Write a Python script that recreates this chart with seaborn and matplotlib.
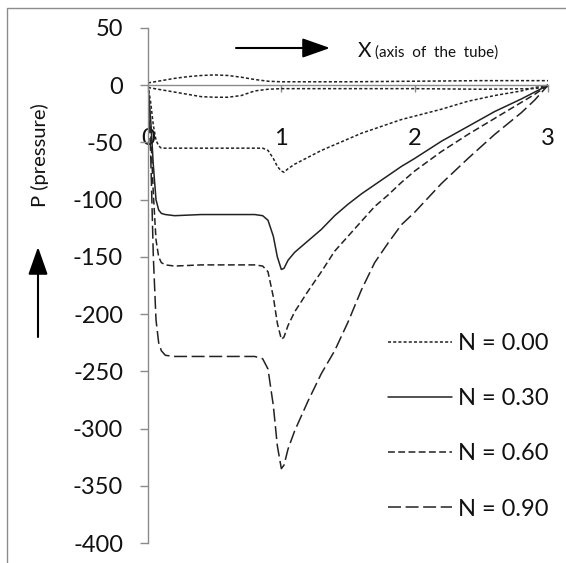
import matplotlib
matplotlib.use("Agg")
import matplotlib.pyplot as plt
from matplotlib.patches import Rectangle
import seaborn as sns
import pandas as pd

# Axial positions along the tube
x_pos = [0, 0.02, 0.04, 0.06, 0.08, 0.10, 0.13, 0.2, 0.4, 0.6, 0.8, 0.86, 0.9,
         0.94, 0.97, 1.0, 1.02, 1.05, 1.1, 1.2, 1.3, 1.4, 1.5, 1.6, 1.7, 1.8,
         1.9, 2.0, 2.2, 2.4, 2.6, 2.8, 2.9, 3.0]

# Pressure for each N
p_n000 = [0, -15, -35, -48, -53, -55, -55, -55, -55, -55, -55, -55, -57,
          -64, -71, -75, -76, -73, -69, -63, -57, -52, -47, -42, -38, -34,
          -30, -27, -21, -14, -9, -5, -2, 0]
p_n030 = [0, -30, -70, -100, -109, -112, -113, -114, -113, -113, -113, -114, -118,
          -132, -150, -161, -160, -153, -146, -136, -126, -114, -104, -95, -87, -79,
          -71, -64, -49, -36, -23, -12, -6, 0]
p_n060 = [0, -40, -95, -135, -150, -155, -157, -158, -157, -157, -157, -158, -163,
          -185, -208, -222, -220, -210, -198, -180, -163, -145, -132, -119, -106, -96,
          -85, -75, -58, -43, -29, -15, -8, 0]
p_n090 = [0, -60, -150, -205, -225, -232, -236, -237, -237, -237, -237, -239, -248,
          -280, -315, -335, -332, -318, -302, -276, -252, -232, -207, -179, -155, -138,
          -122, -111, -86, -64, -43, -24, -13, 0]

# Two small curves close to the zero line
x_near = [0, 0.1, 0.2, 0.3, 0.4, 0.5, 0.6, 0.7, 0.8, 0.9, 1.0, 1.5, 2.0, 2.5, 2.9, 3.0]
p_upper = [2, 4, 6, 7.5, 8.5, 9, 8.5, 7, 5, 3.5, 3, 3, 3.5, 4, 4, 4]
p_lower = [-2, -4, -6, -8, -10, -10.5, -10.5, -9, -5, -3.5, -3, -3, -3, -3.5, -3, -1]

legend_labels = ["N = 0.00", "N = 0.30", "N = 0.60", "N = 0.90"]
y_ticks = [50, 0, -50, -100, -150, -200, -250, -300, -350, -400]
x_ticks = [0, 1, 2, 3]

sns.set_style("white")
plt.rcParams["font.family"] = ["Lato", "DejaVu Sans"]
plt.rcParams["axes.unicode_minus"] = False

W, H = 566, 563
fig = plt.figure(figsize=(W / 100, H / 100), dpi=100)
ax = fig.add_axes([148 / W, 20 / H, 400 / W, 515 / H])

line_col = "#222222"
axis_col = "#8a8a8a"
text_col = "#111111"
lw = 1.1

series = [
    (x_pos, p_n000, (0, (2.0, 1.4)), legend_labels[0]),
    (x_pos, p_n030, "-", legend_labels[1]),
    (x_pos, p_n060, (0, (4.5, 2.2)), legend_labels[2]),
    (x_pos, p_n090, (0, (8.5, 3.0)), legend_labels[3]),
    (x_near, p_upper, (0, (2.0, 1.4)), "_nolegend_"),
    (x_near, p_lower, (0, (2.0, 1.4)), "_nolegend_"),
]
for xs, ys, ls, lab in series:
    df = pd.DataFrame({"x": xs, "P": ys})
    sns.lineplot(data=df, x="x", y="P", ax=ax, color=line_col, lw=lw,
                 linestyle=ls, estimator=None, sort=False, label=lab,
                 legend=False)

ax.set_xlim(0, 3)
ax.set_ylim(-400, 50)
ax.set_xlabel("")
ax.set_ylabel("")

for side in ("top", "right"):
    ax.spines[side].set_visible(False)
ax.spines["bottom"].set_position(("data", 0))
ax.spines["bottom"].set_color(axis_col)
ax.spines["left"].set_color(axis_col)
ax.spines["bottom"].set_linewidth(1.0)
ax.spines["left"].set_linewidth(1.0)

ax.set_yticks(y_ticks)
ax.set_yticklabels([str(v) for v in y_ticks])
ax.set_xticks(x_ticks)
ax.set_xticklabels([str(v) for v in x_ticks])
ax.tick_params(axis="y", direction="out", length=6, width=1, color=axis_col,
               pad=12, labelsize=17, labelcolor=text_col, left=True)
ax.tick_params(axis="x", direction="out", length=5, width=1, color=axis_col,
               pad=26, labelsize=17, labelcolor=text_col, bottom=True)
ax.patch.set_alpha(0)

handles = ax.get_lines()[:4]
ax.legend(handles=handles, labels=legend_labels, loc="upper left",
          bbox_to_anchor=(388 / W, 1 - 333 / H), bbox_transform=fig.transFigure,
          frameon=False, fontsize=17, handlelength=2.7, handletextpad=0.25,
          labelspacing=1.45, borderaxespad=0, borderpad=0)
for t in ax.get_legend().get_texts():
    t.set_color(text_col)

# Outer frame
fig.add_artist(Rectangle((7 / W, -0.1), 1.2, 0.1 + (H - 8) / H,
                         transform=fig.transFigure, fill=False,
                         edgecolor="#8c8c8c", lw=1.0, clip_on=False))

# Direction arrows and their captions
arrow_kw = dict(arrowstyle="-|>,head_length=0.85,head_width=0.3",
                mutation_scale=20, lw=1.5, color="black", shrinkA=0, shrinkB=0)
ax.annotate("", xy=(330, H - 48), xytext=(236, H - 48),
            xycoords="figure pixels", textcoords="figure pixels",
            arrowprops=arrow_kw)
ax.annotate("", xy=(38, H - 247), xytext=(38, H - 337),
            xycoords="figure pixels", textcoords="figure pixels",
            arrowprops=arrow_kw)

fig.text(358 / W, 1 - 57 / H, "X", fontsize=15, color=text_col,
         ha="left", va="baseline")
fig.text(375 / W, 1 - 57 / H, "(axis  of  the  tube)", fontsize=11,
         color=text_col, ha="left", va="baseline")
fig.text(40 / W, 1 - 155 / H, "P (pressure)", fontsize=14.5, color=text_col,
         rotation=90, ha="center", va="center")

fig.savefig("out.png", dpi=100)
